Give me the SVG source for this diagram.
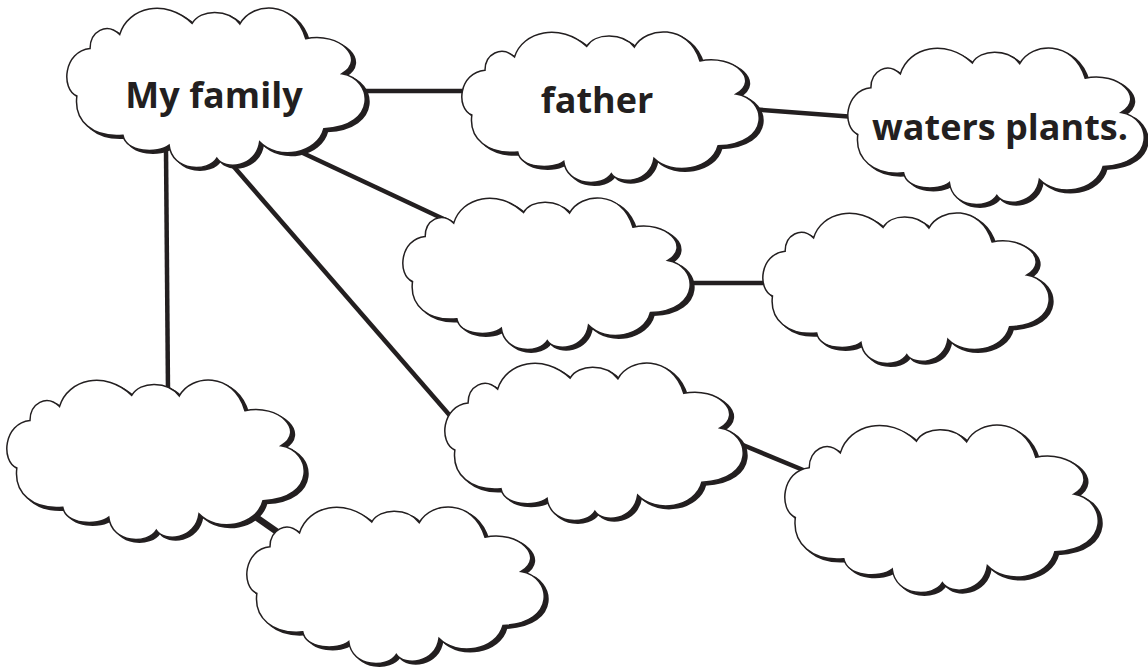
<svg xmlns="http://www.w3.org/2000/svg" xmlns:xlink="http://www.w3.org/1999/xlink" width="1148" height="671" viewBox="0 0 1148 671">
  <style>
    .shadow { fill: #231f20; stroke: #231f20; stroke-width: 2; }
    .body { fill: #ffffff; stroke: #231f20; stroke-width: 1.5; }
    .link { stroke: #231f20; stroke-width: 4.5; fill: none; stroke-linecap: butt; }
    .label { font-family: "Open Sans", "Lato", sans-serif; font-weight: 700; font-size: 36px; fill: #231f20; text-anchor: middle; }
  </style>
  <defs>
    <path id="cloud" vector-effect="non-scaling-stroke" stroke-linejoin="miter" d="M30,272 C-20,250 -10,135 70,127 C70,75 120,45 160,84 C185,0 300,-28 380,50 C405,5 490,5 525,52 C560,-15 690,-25 725,97 C830,75 910,160 835,204 C930,220 945,365 780,372 C760,450 640,470 585,412 C575,490 480,500 455,462 C430,505 320,505 310,422 C275,450 180,445 170,392 C80,400 20,350 30,272 Z"/>
  </defs>
  <rect width="1148" height="671" fill="#ffffff"/>
  <g id="connectors">
    <line class="link" x1="360" y1="91" x2="470" y2="91"/>
    <line class="link" x1="750" y1="109" x2="855" y2="117"/>
    <line class="link" x1="290" y1="147" x2="450" y2="222"/>
    <line class="link" x1="228" y1="160" x2="452" y2="418"/>
    <line class="link" x1="166" y1="150" x2="168" y2="392"/>
    <line class="link" x1="685" y1="283" x2="772" y2="283"/>
    <line class="link" x1="738" y1="443" x2="808" y2="472"/>
    <line class="link" x1="250" y1="513" x2="286" y2="538" style="stroke-width:6.5"/>
  </g>
  <g id="node-my-family">
    <use xlink:href="#cloud" class="shadow" transform="translate(70.5,9.5) scale(0.3293,0.3272)"/>
    <use xlink:href="#cloud" class="body" transform="translate(67,7) scale(0.3293,0.3272)"/>
    <text class="label" x="214" y="108">My family</text>
  </g>
  <g id="node-father">
    <use xlink:href="#cloud" class="shadow" transform="translate(465.5,33.5) scale(0.3282,0.3088)"/>
    <use xlink:href="#cloud" class="body" transform="translate(462,31) scale(0.3282,0.3088)"/>
    <text class="label" x="597" y="113">father</text>
  </g>
  <g id="node-waters-plants">
    <use xlink:href="#cloud" class="shadow" transform="translate(851.5,49.5) scale(0.3271,0.3211)"/>
    <use xlink:href="#cloud" class="body" transform="translate(848,47) scale(0.3271,0.3211)"/>
    <text class="label" x="1000" y="140">waters plants.</text>
  </g>
  <g id="node-middle-2">
    <use xlink:href="#cloud" class="shadow" transform="translate(406.5,199.5) scale(0.3171,0.3108)"/>
    <use xlink:href="#cloud" class="body" transform="translate(403,197) scale(0.3171,0.3108)"/>
  </g>
  <g id="node-right-2">
    <use xlink:href="#cloud" class="shadow" transform="translate(766.5,214.5) scale(0.3160,0.3088)"/>
    <use xlink:href="#cloud" class="body" transform="translate(763,212) scale(0.3160,0.3088)"/>
  </g>
  <g id="node-middle-3">
    <use xlink:href="#cloud" class="shadow" transform="translate(448.5,364.5) scale(0.3293,0.3231)"/>
    <use xlink:href="#cloud" class="body" transform="translate(445,362) scale(0.3293,0.3231)"/>
  </g>
  <g id="node-right-3">
    <use xlink:href="#cloud" class="shadow" transform="translate(788.5,426.5) scale(0.3459,0.3436)"/>
    <use xlink:href="#cloud" class="body" transform="translate(785,424) scale(0.3459,0.3436)"/>
  </g>
  <g id="node-left">
    <use xlink:href="#cloud" class="shadow" transform="translate(10.5,381.5) scale(0.3282,0.3272)"/>
    <use xlink:href="#cloud" class="body" transform="translate(7,379) scale(0.3282,0.3272)"/>
  </g>
  <g id="node-bottom">
    <use xlink:href="#cloud" class="shadow" transform="translate(250.5,508.5) scale(0.3282,0.3211)"/>
    <use xlink:href="#cloud" class="body" transform="translate(247,506) scale(0.3282,0.3211)"/>
  </g>
</svg>
